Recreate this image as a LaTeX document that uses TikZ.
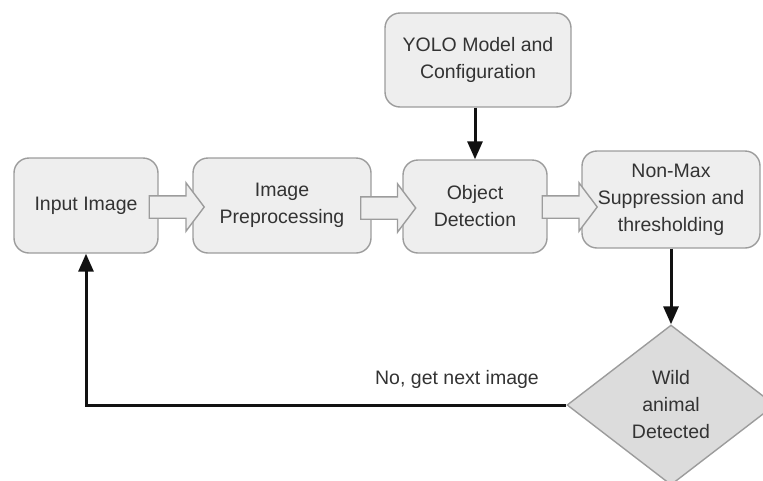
\documentclass[tikz,border=0pt]{standalone}
\usepackage{fontspec}
\setmainfont{Liberation Sans}
\usetikzlibrary{shapes.geometric,shapes.arrows,arrows.meta,calc}

\definecolor{boxfill}{HTML}{EEEEEE}
\definecolor{boxline}{HTML}{9C9C9C}
\definecolor{dmfill}{HTML}{DCDCDC}
\definecolor{txt}{HTML}{333333}
\definecolor{flow}{HTML}{111111}

\begin{document}
\begin{tikzpicture}[x=1pt,y=-1pt,
  stage/.style={draw=boxline, fill=boxfill, line width=1.4pt, rounded corners=15pt,
    align=center, text=txt, inner sep=0pt,
    font=\fontsize{19.5}{27}\selectfont},
  decision/.style={diamond, draw=boxline, fill=dmfill, line width=1.4pt, aspect=1.3,
    align=center, text=txt, inner sep=0pt,
    font=\fontsize{19.5}{27}\selectfont},
  blockarrow/.style={single arrow, draw=boxline, fill=boxfill, line width=1.4pt,
    inner sep=0pt, text height=21pt, text depth=0pt,
    single arrow head extend=13pt, single arrow tip angle=106,
    minimum height=55pt},
  flowline/.style={draw=flow, line width=3pt, -{Triangle[length=18pt,width=15pt]}}]

\useasboundingbox (0,0) rectangle (763,480);

% processing stages
\node[stage, minimum width=144pt, minimum height=95pt] (in)  at (86,205.5)  {Input Image};
\node[stage, minimum width=178pt, minimum height=95pt] (pre) at (282,205.5) {Image\\Preprocessing};
\node[stage, minimum width=144pt, minimum height=93pt] (det) at (475,206.5) {Object\\Detection};
\node[stage, minimum width=178pt, minimum height=97pt] (nms) at (671,199.5) {Non-Max\\Suppression and\\thresholding};
\node[stage, minimum width=186pt, minimum height=94pt] (yolo) at (478,60)   {YOLO Model and\\Configuration};

% decision
\node[decision, minimum width=208pt, minimum height=160pt] (wild) at (671,405) {Wild\\animal\\Detected};

% hollow arrows between stages
\node[blockarrow] (a1) at (172.5,207) {};
\node[blockarrow] (a2) at (384,208) {};
\node[blockarrow] (a3) at (565.5,207) {};

% control flow
\draw[flowline] (yolo.south -| det.north) -- (det.north);
\draw[flowline] (nms.south) -- (wild.north);
\draw[flowline] (wild.west) -| (in.south);

\node[text=txt, font=\fontsize{19.5}{24}\selectfont, anchor=base] (lbl) at (457,384) {No, get next image};

\end{tikzpicture}
\end{document}
